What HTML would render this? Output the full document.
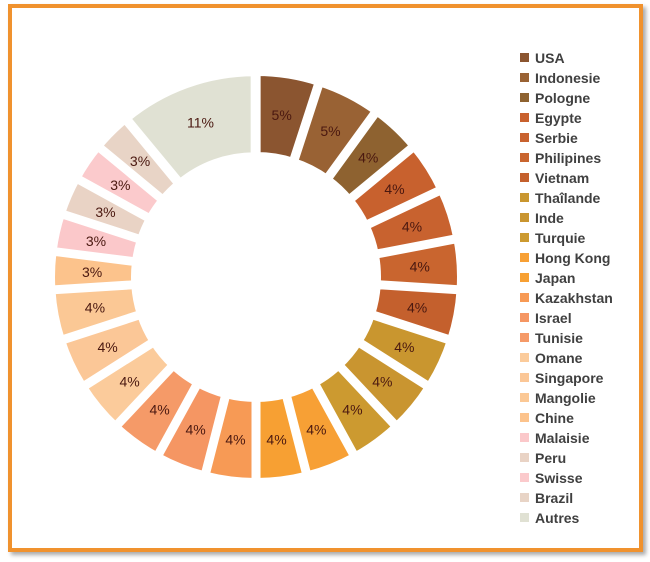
<!DOCTYPE html>
<html><head><meta charset="utf-8"><style>
html,body{margin:0;padding:0;background:#fff;}
#wrap{position:relative;width:650px;height:562px;overflow:hidden;background:#fff;}
#frame{position:absolute;left:8px;top:4px;width:627px;height:540px;border:4px solid #f0922e;background:#fff;box-shadow:3px 3px 4px #aaa;}
svg{position:absolute;left:0;top:0;}
text{font-family:"Liberation Sans",sans-serif;}
</style></head><body>
<div id="wrap"><div id="frame"></div>
<svg id="s" width="650" height="562" viewBox="0 0 650 562"></svg>
</div>
<script>
var d=[["USA",5,"#8b5530"],["Indonesie",5,"#996234"],["Pologne",4,"#8e6230"],["Egypte",4,"#c8612e"],["Serbie",4,"#c8622f"],["Philipines",4,"#c9652f"],["Vietnam",4,"#c4602d"],["Thaîlande",4,"#c9962f"],["Inde",4,"#c99530"],["Turquie",4,"#cc9a30"],["Hong Kong",4,"#f7a035"],["Japan",4,"#f7a033"],["Kazakhstan",4,"#f79a55"],["Israel",4,"#f59663"],["Tunisie",4,"#f59a68"],["Omane",4,"#fbcb9b"],["Singapore",4,"#fbc797"],["Mangolie",4,"#fbc895"],["Chine",3,"#fcc38c"],["Malaisie",3,"#fbc8ca"],["Peru",3,"#e9d3c5"],["Swisse",3,"#fbcacc"],["Brazil",3,"#e8d4c6"],["Autres",11,"#e0e1d3"]];
var cx=256,cy=277,ri=117,ro=201,ex=4,h="",a=0;
function p(r,t,ox,oy){return (cx+ox+r*Math.sin(t)).toFixed(2)+","+(cy+oy-r*Math.cos(t)).toFixed(2);}
for(var i=0;i<d.length;i++){
 var a0=a/100*2*Math.PI;a+=d[i][1];var a1=a/100*2*Math.PI,m=(a0+a1)/2;
 var ox=ex*Math.sin(m),oy=-ex*Math.cos(m);
 h+='<path d="M'+p(ro,a0,ox,oy)+' A'+ro+','+ro+' 0 0 1 '+p(ro,a1,ox,oy)+' L'+p(ri,a1,ox,oy)+' A'+ri+','+ri+' 0 0 0 '+p(ri,a0,ox,oy)+' Z" fill="'+d[i][2]+'" stroke="#fff" stroke-width="8" stroke-linejoin="miter"/>';
 var lp=p(160,m,ox,oy).split(",");
 h+='<text x="'+lp[0]+'" y="'+(+lp[1]+5)+'" text-anchor="middle" font-size="14" fill="#4a1810">'+d[i][1]+'%</text>';
 var y=58+i*20;
 h+='<rect x="520" y="'+(y-5)+'" width="9" height="9" fill="'+d[i][2]+'"/>';
 h+='<text x="535" y="'+(y+5)+'" font-size="14" font-weight="bold" fill="#404040">'+d[i][0]+'</text>';
}
document.getElementById("s").innerHTML=h;
</script>
</body></html>
